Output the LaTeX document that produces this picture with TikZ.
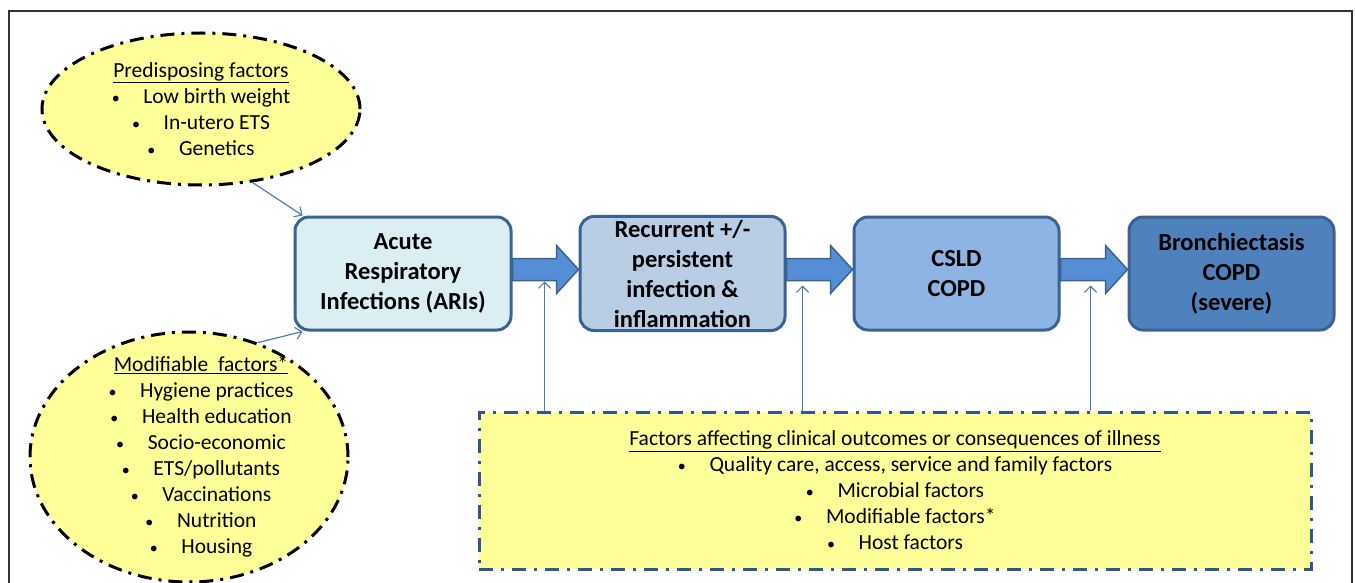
\documentclass[tikz,border=0pt]{standalone}
\usepackage{fontspec}
\setmainfont{Carlito}
\usetikzlibrary{shapes.geometric,positioning,calc,arrows.meta}

\definecolor{stageA}{HTML}{DBEEF4}
\definecolor{stageB}{HTML}{B9CDE5}
\definecolor{stageC}{HTML}{8EB4E3}
\definecolor{stageD}{HTML}{4F81BD}
\definecolor{stageline}{HTML}{3A6391}
\definecolor{flowfill}{HTML}{558ED5}
\definecolor{factorfill}{HTML}{FFFF99}
\definecolor{outcomeline}{HTML}{2F5597}
\definecolor{linkline}{HTML}{4A7EBB}

\newcommand\bul{{\fontsize{16}{26}\selectfont\textbullet}\hspace{1.1em}}

\tikzset{
  stage/.style={draw=stageline, line width=3pt, rounded corners=14pt,
    minimum width=205pt, minimum height=113pt, align=center,
    font=\fontsize{24.5}{30}\selectfont\bfseries},
  factorcloud/.style={ellipse, draw=black, fill=factorfill, line width=3pt,
    dash pattern=on 14pt off 7pt on 3pt off 7pt, inner sep=0pt},
  factortext/.style={align=center, font=\fontsize{21.5}{26}\selectfont},
  outcome/.style={draw=outcomeline, fill=factorfill, line width=3pt,
    dash pattern=on 14pt off 8pt on 3pt off 8pt,
    minimum width=832pt, minimum height=157pt, factortext},
  flow/.style={draw=stageline, fill=flowfill, line width=1.5pt},
  link/.style={draw=linkline, line width=1.2pt, -{Straight Barb[length=6pt,width=12pt]}}
}

\begin{document}
\begin{tikzpicture}[x=1pt, y=-1pt, node distance=66pt]
  \useasboundingbox (0,0) rectangle (1355,583);
  \draw[line width=1.5pt, black!80] (9,583) -- (9,11) -- (1352,11) -- (1352,583);

  % factors feeding the ARIs
  \node[factorcloud, minimum width=318pt, minimum height=152pt] (pre) at (201,109) {};
  \node[factortext] (pretext) at (pre) {\underline{Predisposing factors}\\
    \bul Low birth weight\\ \bul In-utero ETS\\ \bul Genetics};
  \node[factorcloud, minimum width=318pt, minimum height=250pt] (mod) at (189,457) {};
  \node[factortext] (modtext) at ([xshift=12pt]mod.center) {\underline{Modifiable~ factors*}\\
    \bul Hygiene practices\\ \bul Health education\\ \bul Socio-economic\\
    \bul ETS/pollutants\\ \bul Vaccinations\\ \bul Nutrition\\ \bul Housing};

  % stages of disease
  \node[stage, fill=stageA, minimum width=216pt] (ari) at (403,273.5) {Acute\\ Respiratory\\ Infections (ARIs)};
  \node[stage, fill=stageB] (rec) [right=of ari] {Recurrent +/-\\ persistent\\ infection \&\\ inflammation};
  \node[stage, fill=stageC] (csld) [right=of rec] {CSLD\\ COPD};
  \node[stage, fill=stageD] (bron) [right=67pt of csld] {Bronchiectasis\\ COPD\\ (severe)};

  \foreach \a/\b in {ari/rec, rec/csld, csld/bron}
    \draw[flow] let \p1=(\a.east), \p2=(\b.west) in
      (\x1,\y1+15pt) -- (\x2-22pt,\y1+15pt) -- (\x2-22pt,\y1+28pt) -- (\x2,\y1+4pt)
      -- (\x2-22pt,\y1-20pt) -- (\x2-22pt,\y1-7pt) -- (\x1,\y1-7pt) -- cycle;

  \draw[link] (pre.-55) -- (ari.150);
  \draw[link] (mod.59) -- (ari.210);

  % outcomes
  \node[outcome] (outc) at (895,490.5) {\underline{Factors affecting clinical outcomes or consequences of illness}\\
    \bul Quality care, access, service and family factors\\ \bul Microbial factors\\
    \bul Modifiable factors*\\ \bul Host factors};

  \coordinate (in1) at ([xshift=32pt, yshift=-8pt]ari.east);
  \coordinate (in2) at ([xshift=16pt, yshift=-12pt]rec.east);
  \coordinate (in3) at ([xshift=30pt, yshift=-12pt]csld.east);
  \foreach \t in {in1, in2, in3}
    \draw[link] (outc.north -| \t) -- (\t);
\end{tikzpicture}
\end{document}
